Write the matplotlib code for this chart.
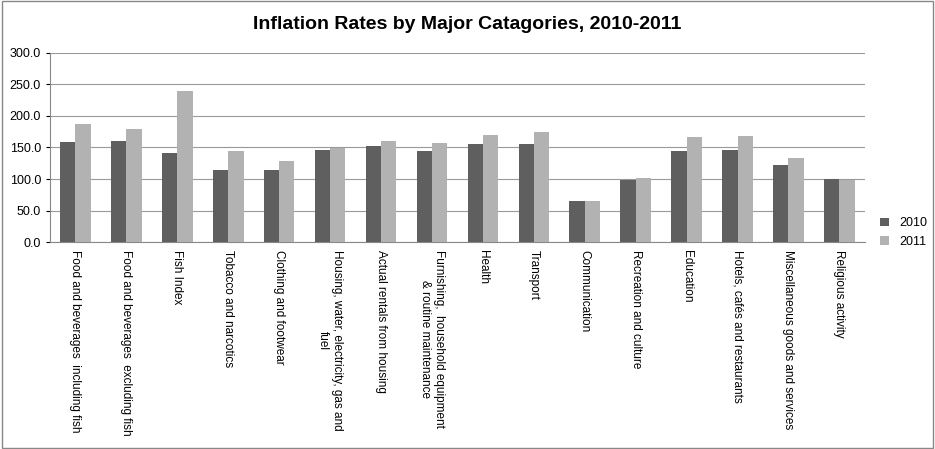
import matplotlib
matplotlib.use("Agg")
import matplotlib.pyplot as plt
import numpy as np

categories = ["Food and beverages  including fish", "Food and beverages  excluding fish", "Fish Index",
              "Tobacco and narcotics", "Clothing and footwear", "Housing, water, electricity, gas and\nfuel",
              "Actual rentals from housing", "Furnishing,  household equipment\n& routine maintenance",
              "Health", "Transport", "Communication", "Recreation and culture", "Education",
              "Hotels, cafés and restaurants", "Miscellaneous goods and services", "Religious activity"]
v2010 = [158, 160, 141, 114, 114, 146, 153, 144, 156, 155, 65, 98, 145, 146, 122, 100]
v2011 = [188, 180, 239, 145, 128, 149, 161, 157, 170, 175, 65, 101, 167, 168, 133, 99]
yticks = [0, 50, 100, 150, 200, 250, 300]

plt.rcParams['font.family'] = ['Liberation Sans', 'DejaVu Sans']
fig = plt.figure(figsize=(9.35, 4.49), dpi=100)
fig.patches.append(plt.Rectangle((0.002, 0.002), 0.996, 0.996, transform=fig.transFigure,
                                 fill=False, edgecolor='#888888', lw=1))
ax = fig.add_axes([0.0535, 0.461, 0.8715, 0.421])
x = np.arange(len(categories))
w = 0.3
ax.bar(x - w/2, v2010, w, color='#5f5f5f', label='2010', zorder=3)
ax.bar(x + w/2, v2011, w, color='#b2b2b2', label='2011', zorder=3)
ax.set_xlim(-0.5, len(categories) - 0.5)
ax.set_ylim(0, 300)
ax.set_yticks(yticks)
ax.set_yticklabels([f"{t:.1f}" for t in yticks], fontsize=9)
ax.yaxis.grid(True, color='#999999', lw=0.8, zorder=0)
ax.set_xticks(x)
ax.set_xticklabels(categories, rotation=270, fontsize=8.5, ha='center', va='top')
ax.tick_params(axis='x', length=0, pad=6)
ax.tick_params(axis='y', length=3)
for s in ['top', 'right']:
    ax.spines[s].set_visible(False)
ax.spines['left'].set_color('#888888')
ax.spines['bottom'].set_color('#888888')
fig.text(0.5, 0.945, "Inflation Rates by Major Catagories, 2010-2011", ha='center', va='center',
         fontsize=14, fontweight='bold')
ax.legend(loc='center left', bbox_to_anchor=(1.005, 0.05), frameon=False, fontsize=9,
          handlelength=0.7, handleheight=0.7)
fig.savefig("out.png", dpi=100)
